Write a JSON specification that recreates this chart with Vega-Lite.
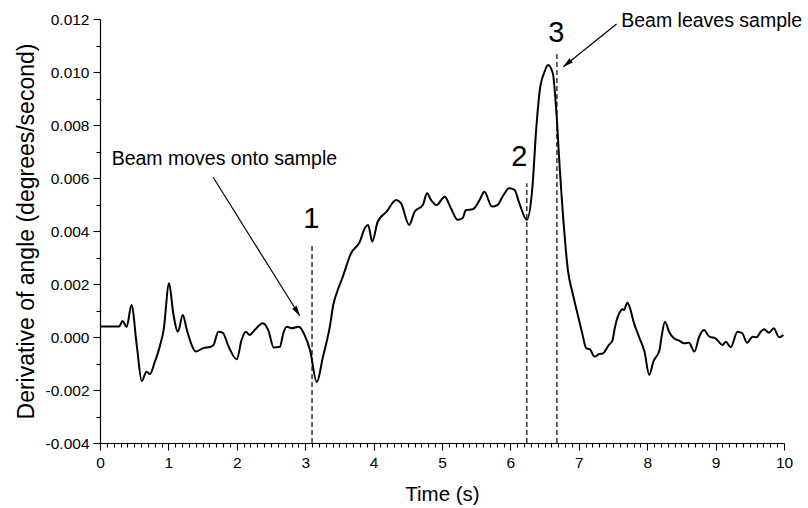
{
  "$schema": "https://vega.github.io/schema/vega-lite/v6.json",
  "width": 684,
  "height": 424,
  "autosize": {"type": "none"},
  "padding": {"left": 100, "top": 19, "right": 24, "bottom": 65},
  "background": "white",
  "config": {"view": {"stroke": null}, "font": "Liberation Sans"},
  "datasets": {
    "curve": [
      {"time": 0.00, "deriv": 0.00040}, {"time": 0.28, "deriv": 0.00040}, {"time": 0.33, "deriv": 0.00060},
      {"time": 0.39, "deriv": 0.00038}, {"time": 0.46, "deriv": 0.00121}, {"time": 0.54, "deriv": -0.00037},
      {"time": 0.61, "deriv": -0.00166}, {"time": 0.68, "deriv": -0.00131}, {"time": 0.73, "deriv": -0.00140},
      {"time": 0.80, "deriv": -0.00095}, {"time": 0.88, "deriv": -0.00030}, {"time": 0.93, "deriv": 0.00026},
      {"time": 1.01, "deriv": 0.00203}, {"time": 1.07, "deriv": 0.00091}, {"time": 1.14, "deriv": 0.00020},
      {"time": 1.21, "deriv": 0.00083}, {"time": 1.27, "deriv": 0.00026}, {"time": 1.34, "deriv": -0.00030},
      {"time": 1.40, "deriv": -0.00055}, {"time": 1.51, "deriv": -0.00042}, {"time": 1.61, "deriv": -0.00038},
      {"time": 1.66, "deriv": -0.00030}, {"time": 1.73, "deriv": 0.00020}, {"time": 1.80, "deriv": 0.00015},
      {"time": 1.87, "deriv": -0.00030}, {"time": 2.00, "deriv": -0.00084}, {"time": 2.07, "deriv": -0.00011},
      {"time": 2.13, "deriv": 0.00020}, {"time": 2.19, "deriv": 0.00008}, {"time": 2.26, "deriv": 0.00026},
      {"time": 2.38, "deriv": 0.00052}, {"time": 2.46, "deriv": 0.00026}, {"time": 2.54, "deriv": -0.00040},
      {"time": 2.63, "deriv": -0.00037}, {"time": 2.68, "deriv": 0.00014}, {"time": 2.73, "deriv": 0.00039},
      {"time": 2.80, "deriv": 0.00033}, {"time": 2.91, "deriv": 0.00039}, {"time": 2.99, "deriv": 0.00008},
      {"time": 3.07, "deriv": -0.00049}, {"time": 3.17, "deriv": -0.00170}, {"time": 3.26, "deriv": -0.00074},
      {"time": 3.36, "deriv": 0.00039}, {"time": 3.41, "deriv": 0.00121}, {"time": 3.48, "deriv": 0.00180},
      {"time": 3.55, "deriv": 0.00228}, {"time": 3.67, "deriv": 0.00316}, {"time": 3.80, "deriv": 0.00360},
      {"time": 3.87, "deriv": 0.00410}, {"time": 3.92, "deriv": 0.00423}, {"time": 3.98, "deriv": 0.00360},
      {"time": 4.06, "deriv": 0.00435}, {"time": 4.19, "deriv": 0.00473}, {"time": 4.33, "deriv": 0.00517},
      {"time": 4.40, "deriv": 0.00505}, {"time": 4.52, "deriv": 0.00423}, {"time": 4.60, "deriv": 0.00473},
      {"time": 4.72, "deriv": 0.00498}, {"time": 4.78, "deriv": 0.00542}, {"time": 4.84, "deriv": 0.00517},
      {"time": 4.92, "deriv": 0.00498}, {"time": 5.04, "deriv": 0.00529}, {"time": 5.13, "deriv": 0.00486},
      {"time": 5.23, "deriv": 0.00442}, {"time": 5.30, "deriv": 0.00448}, {"time": 5.35, "deriv": 0.00479},
      {"time": 5.45, "deriv": 0.00482}, {"time": 5.55, "deriv": 0.00517}, {"time": 5.62, "deriv": 0.00548},
      {"time": 5.73, "deriv": 0.00492}, {"time": 5.81, "deriv": 0.00498}, {"time": 5.90, "deriv": 0.00536},
      {"time": 5.98, "deriv": 0.00561}, {"time": 6.06, "deriv": 0.00555}, {"time": 6.13, "deriv": 0.00505},
      {"time": 6.24, "deriv": 0.00442}, {"time": 6.32, "deriv": 0.00560}, {"time": 6.38, "deriv": 0.00794},
      {"time": 6.43, "deriv": 0.00932}, {"time": 6.50, "deriv": 0.01001}, {"time": 6.55, "deriv": 0.01026},
      {"time": 6.62, "deriv": 0.00995}, {"time": 6.67, "deriv": 0.00857}, {"time": 6.72, "deriv": 0.00643},
      {"time": 6.79, "deriv": 0.00391}, {"time": 6.84, "deriv": 0.00253}, {"time": 6.91, "deriv": 0.00165},
      {"time": 6.98, "deriv": 0.00089}, {"time": 7.05, "deriv": 0.00014}, {"time": 7.11, "deriv": -0.00043},
      {"time": 7.16, "deriv": -0.00046}, {"time": 7.23, "deriv": -0.00074}, {"time": 7.30, "deriv": -0.00064},
      {"time": 7.35, "deriv": -0.00062}, {"time": 7.44, "deriv": -0.00030}, {"time": 7.49, "deriv": -0.00014},
      {"time": 7.53, "deriv": 0.00039}, {"time": 7.59, "deriv": 0.00089}, {"time": 7.64, "deriv": 0.00105},
      {"time": 7.66, "deriv": 0.00102}, {"time": 7.71, "deriv": 0.00129}, {"time": 7.75, "deriv": 0.00108},
      {"time": 7.80, "deriv": 0.00058}, {"time": 7.88, "deriv": 0.00001}, {"time": 7.96, "deriv": -0.00055},
      {"time": 8.03, "deriv": -0.00143}, {"time": 8.09, "deriv": -0.00093}, {"time": 8.18, "deriv": -0.00049},
      {"time": 8.21, "deriv": 0.00001}, {"time": 8.26, "deriv": 0.00058}, {"time": 8.32, "deriv": 0.00020},
      {"time": 8.39, "deriv": -0.00005}, {"time": 8.47, "deriv": -0.00014}, {"time": 8.54, "deriv": -0.00024},
      {"time": 8.61, "deriv": -0.00022}, {"time": 8.69, "deriv": -0.00055}, {"time": 8.76, "deriv": 0.00001},
      {"time": 8.83, "deriv": 0.00026}, {"time": 8.91, "deriv": 0.00001}, {"time": 9.00, "deriv": -0.00005},
      {"time": 9.10, "deriv": -0.00030}, {"time": 9.15, "deriv": -0.00018}, {"time": 9.22, "deriv": -0.00039},
      {"time": 9.32, "deriv": 0.00020}, {"time": 9.39, "deriv": 0.00014}, {"time": 9.46, "deriv": -0.00022},
      {"time": 9.54, "deriv": 0.00001}, {"time": 9.60, "deriv": -0.00001}, {"time": 9.66, "deriv": 0.00020},
      {"time": 9.71, "deriv": 0.00029}, {"time": 9.78, "deriv": 0.00016}, {"time": 9.85, "deriv": 0.00033},
      {"time": 9.93, "deriv": -0.00001}, {"time": 9.99, "deriv": 0.00008}
    ],
    "vlines": [
      {"time": 3.10, "deriv": -0.004, "deriv2": 0.0035},
      {"time": 6.24, "deriv": -0.004, "deriv2": 0.0058},
      {"time": 6.68, "deriv": -0.004, "deriv2": 0.0108}
    ],
    "arrows": [
      {"name": "moves", "time": 2.92, "deriv": 0.0008, "time2": 1.654, "deriv2": 0.00603},
      {"name": "leaves", "time": 6.774, "deriv": 0.0102, "time2": 7.552, "deriv2": 0.01181}
    ],
    "notes": [
      {"time": 0.17, "deriv": 0.0067, "label": "Beam moves onto sample"},
      {"time": 7.62, "deriv": 0.01192, "label": "Beam leaves sample"}
    ],
    "numbers": [
      {"time": 3.09, "deriv": 0.00445, "label": "1"},
      {"time": 6.13, "deriv": 0.0068, "label": "2"},
      {"time": 6.67, "deriv": 0.01149, "label": "3"}
    ]
  },
  "encoding": {
    "x": {
      "field": "time",
      "type": "quantitative",
      "scale": {"domain": [0, 10], "nice": false, "zero": false},
      "axis": {
        "title": "Time (s)",
        "values": [0,0.1,0.2,0.3,0.4,0.5,0.6,0.7,0.8,0.9,1,1.1,1.2,1.3,1.4,1.5,1.6,1.7,1.8,1.9,2,2.1,2.2,2.3,2.4,2.5,2.6,2.7,2.8,2.9,3,3.1,3.2,3.3,3.4,3.5,3.6,3.7,3.8,3.9,4,4.1,4.2,4.3,4.4,4.5,4.6,4.7,4.8,4.9,5,5.1,5.2,5.3,5.4,5.5,5.6,5.7,5.8,5.9,6,6.1,6.2,6.3,6.4,6.5,6.6,6.7,6.8,6.9,7,7.1,7.2,7.3,7.4,7.5,7.6,7.7,7.8,7.9,8,8.1,8.2,8.3,8.4,8.5,8.6,8.7,8.8,8.9,9,9.1,9.2,9.3,9.4,9.5,9.6,9.7,9.8,9.9,10],
        "labelExpr": "abs(datum.value - round(datum.value)) < 1e-6 ? format(datum.value, 'd') : ''",
        "tickSize": {"condition": {"test": "abs(datum.value - round(datum.value)) < 1e-6", "value": 7}, "value": 4},
        "labelOverlap": false,
        "labelFlush": false,
        "grid": false,
        "domainColor": "black",
        "domainWidth": 1.2,
        "tickColor": "black",
        "tickWidth": 1.1,
        "labelColor": "black",
        "labelFontSize": 15.5,
        "labelPadding": 5,
        "titleColor": "black",
        "titleFontSize": 20.5,
        "titleFontWeight": "normal",
        "titlePadding": 14
      }
    },
    "y": {
      "field": "deriv",
      "type": "quantitative",
      "scale": {"domain": [-0.004, 0.012], "nice": false, "zero": false},
      "axis": {
        "title": "Derivative of angle (degrees/second)",
        "values": [-0.004,-0.003,-0.002,-0.001,0,0.001,0.002,0.003,0.004,0.005,0.006,0.007,0.008,0.009,0.01,0.011,0.012],
        "labelExpr": "abs(datum.value*500 - round(datum.value*500)) < 1e-6 ? replace(format(datum.value, '.3f'), '−', '-') : ''",
        "tickSize": {"condition": {"test": "abs(datum.value*500 - round(datum.value*500)) < 1e-6", "value": 7}, "value": 4},
        "labelOverlap": false,
        "labelFlush": false,
        "grid": false,
        "domainColor": "black",
        "domainWidth": 1.2,
        "tickColor": "black",
        "tickWidth": 1.1,
        "labelColor": "black",
        "labelFontSize": 15.5,
        "labelPadding": 4,
        "titleColor": "black",
        "titleFontSize": 23,
        "titleFontWeight": "normal",
        "titlePadding": 7
      }
    }
  },
  "layer": [
    {
      "data": {"name": "curve"},
      "mark": {"type": "line", "color": "black", "strokeWidth": 2, "interpolate": "monotone"}
    },
    {
      "data": {"name": "vlines"},
      "mark": {"type": "rule", "color": "black", "strokeWidth": 1.2, "strokeDash": [5, 3]},
      "encoding": {"y2": {"field": "deriv2"}}
    },
    {
      "data": {"name": "arrows"},
      "mark": {"type": "rule", "color": "black", "strokeWidth": 1.2},
      "encoding": {"x2": {"field": "time2"}, "y2": {"field": "deriv2"}}
    },
    {
      "data": {"name": "arrows"},
      "transform": [{"filter": "datum.name === 'moves'"}],
      "mark": {"type": "point", "shape": "M0,0L-0.55,2L0.55,2Z", "filled": true, "color": "black", "opacity": 1, "size": 100, "angle": 147.8}
    },
    {
      "data": {"name": "arrows"},
      "transform": [{"filter": "datum.name === 'leaves'"}],
      "mark": {"type": "point", "shape": "M0,0L-0.55,2L0.55,2Z", "filled": true, "color": "black", "opacity": 1, "size": 100, "angle": 231.3}
    },
    {
      "data": {"name": "notes"},
      "mark": {"type": "text", "align": "left", "baseline": "middle", "fontSize": 19.5, "color": "black"},
      "encoding": {"text": {"field": "label"}}
    },
    {
      "data": {"name": "numbers"},
      "mark": {"type": "text", "align": "center", "baseline": "middle", "fontSize": 29, "color": "black"},
      "encoding": {"text": {"field": "label"}}
    }
  ]
}
